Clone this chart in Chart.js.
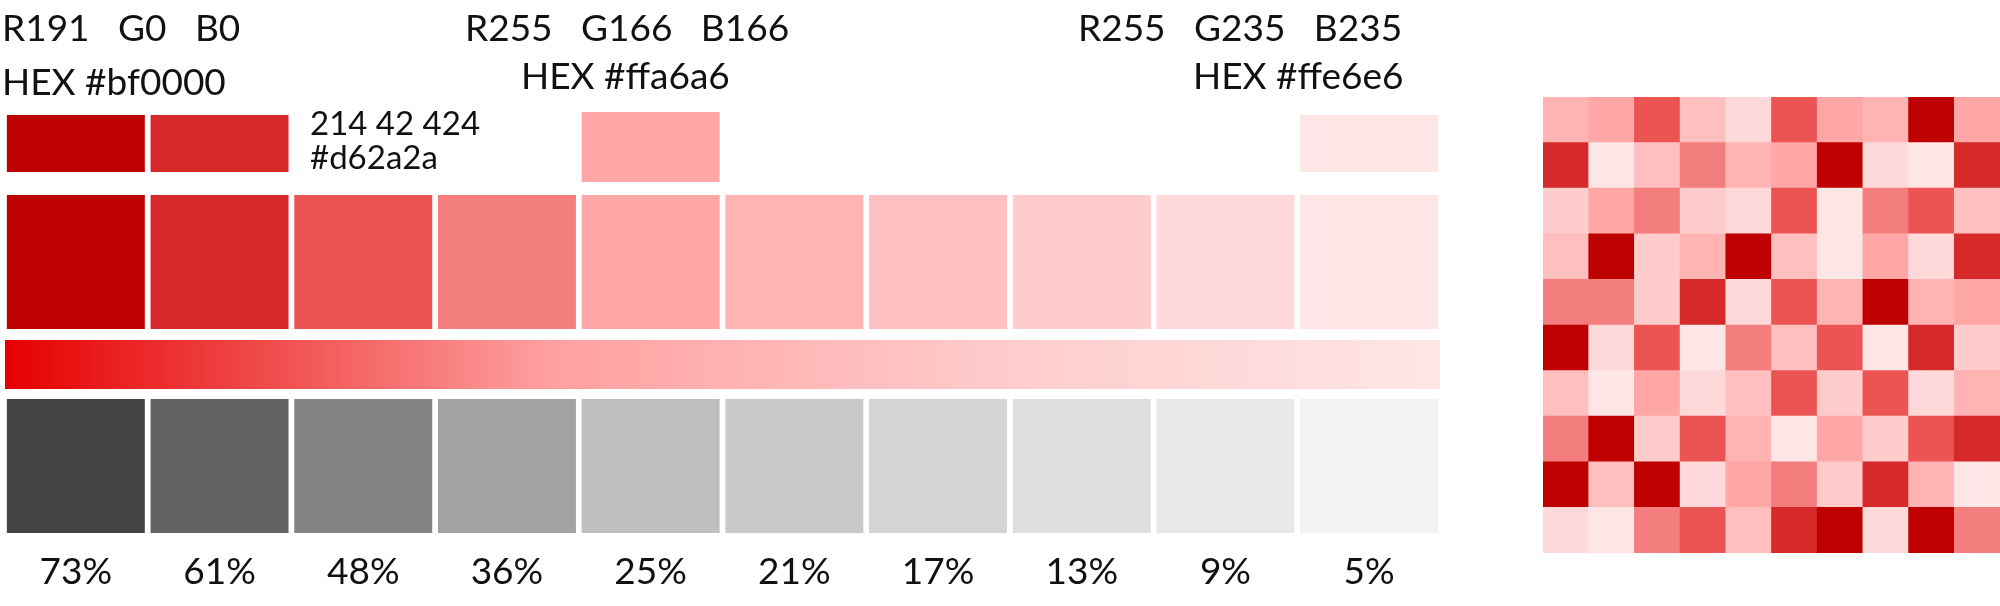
<!DOCTYPE html>
<html><head><meta charset="utf-8">
<script src="https://cdn.jsdelivr.net/npm/chart.js@4"></script>
<style>
html,body{margin:0;padding:0;background:#fff;width:2000px;height:606px;overflow:hidden;font-family:Lato,"Open Sans",sans-serif}
#c1{position:absolute;left:0;top:0}
#c2wrap{position:absolute;left:1543px;top:97px;width:457px;height:456px}
.t{position:absolute;color:#111;white-space:pre;line-height:1}
</style></head><body>
<canvas id="c1" width="2000" height="606"></canvas>
<div id="c2wrap"><canvas id="c2"></canvas></div>
<div class="t" style="left:2px;top:8px;font-size:37px">R191   G0   B0</div>
<div class="t" style="left:2px;top:62px;font-size:37px">HEX #bf0000</div>
<div class="t" style="left:310px;top:106px;font-size:33px">214 42 424</div>
<div class="t" style="left:310px;top:140px;font-size:33px">#d62a2a</div>
<div class="t" style="left:465px;top:8px;font-size:37px">R255   G166   B166</div>
<div class="t" style="left:521px;top:56px;font-size:37px">HEX #ffa6a6</div>
<div class="t" style="left:1078px;top:8px;font-size:37px">R255   G235   B235</div>
<div class="t" style="left:1193px;top:56px;font-size:37px">HEX #ffe6e6</div>
<script>
const columns = ['c1','c2','c3','c4','c5','c6','c7','c8','c9','c10'];
const percentLabels = ['73%','61%','48%','36%','25%','21%','17%','13%','9%','5%'];
const redShades = ['#bf0000','#d62a2a','#ec5454','#f47d7d','#ffa6a6','#ffb3b3','#ffbfbf','#ffcccc','#ffd9d9','#ffe6e6'];
const grayShades = ['#454545','#636363','#838383','#a3a3a3','#bfbfbf','#c9c9c9','#d4d4d4','#dedede','#e8e8e8','#f2f2f2'];
const swatchCols = [0,1,4,9];
const heatRows = [
 [5,4,2,6,8,2,4,5,0,4],
 [1,9,6,3,5,4,0,8,9,1],
 [7,4,3,7,8,2,9,3,2,6],
 [6,0,7,5,0,6,9,4,8,1],
 [3,3,7,1,8,2,5,0,5,4],
 [0,8,2,9,3,6,2,9,1,7],
 [6,9,4,8,6,2,7,2,8,5],
 [3,0,7,2,5,9,4,7,2,1],
 [0,6,0,8,4,3,7,1,5,9],
 [8,9,3,2,6,1,0,8,0,3]
];

const overlay = {
  id:'overlay',
  beforeDatasetsDraw(chart){
    const ctx=chart.ctx, x=chart.scales.x, y=chart.scales.y;
    const l=chart.chartArea.left, r=chart.chartArea.right;
    const g=ctx.createLinearGradient(l,0,r,0);
    g.addColorStop(0,'#e60000'); g.addColorStop(0.18,'#f04a4a');
    g.addColorStop(0.38,'#ffa0a0'); g.addColorStop(0.7,'#ffcccc'); g.addColorStop(1,'#ffe6e6');
    ctx.save(); ctx.fillStyle=g;
    ctx.fillRect(l+1,y.getPixelForValue(340),r-l-2,y.getPixelForValue(389)-y.getPixelForValue(340));
    ctx.restore();
  },
  afterDatasetsDraw(chart){
    const ctx=chart.ctx, x=chart.scales.x;
    ctx.save(); ctx.fillStyle='#111'; ctx.font='37px Lato, sans-serif';
    ctx.textAlign='center'; ctx.textBaseline='middle';
    percentLabels.forEach((p,i)=>ctx.fillText(p,x.getPixelForValue(i),572));
    ctx.restore();
  }
};

new Chart(document.getElementById('c1'),{
  type:'bar',
  data:{labels:columns,datasets:[
    {data:columns.map(()=>[399,533]),backgroundColor:grayShades,barPercentage:0.96,categoryPercentage:1},
    {data:columns.map(()=>[195,329]),backgroundColor:redShades,barPercentage:0.96,categoryPercentage:1},
    {data:columns.map((c,i)=>swatchCols.includes(i)?(i===4?[112,182]:[115,172]):null),backgroundColor:redShades,barPercentage:0.96,categoryPercentage:1}
  ]},
  options:{responsive:false,animation:false,devicePixelRatio:1,
    layout:{padding:{left:4,right:559,top:0,bottom:0}},
    plugins:{legend:{display:false},tooltip:{enabled:false}},
    scales:{x:{display:false,stacked:true},y:{display:false,min:0,max:606,reverse:true}}},
  plugins:[overlay]
});

const heatDatasets = [];
for(let r=heatRows.length-1;r>=0;r--){
  heatDatasets.push({data:columns.map(()=>1),backgroundColor:heatRows[r].map(v=>redShades[v]),barPercentage:1,categoryPercentage:1,borderWidth:0});
}
new Chart(document.getElementById('c2'),{
  type:'bar',
  data:{labels:columns,datasets:heatDatasets},
  options:{responsive:true,maintainAspectRatio:false,animation:false,
    layout:{padding:0},
    plugins:{legend:{display:false},tooltip:{enabled:false}},
    scales:{x:{display:false,stacked:true},y:{display:false,stacked:true,min:0,max:10}}}
});
</script>
</body></html>
